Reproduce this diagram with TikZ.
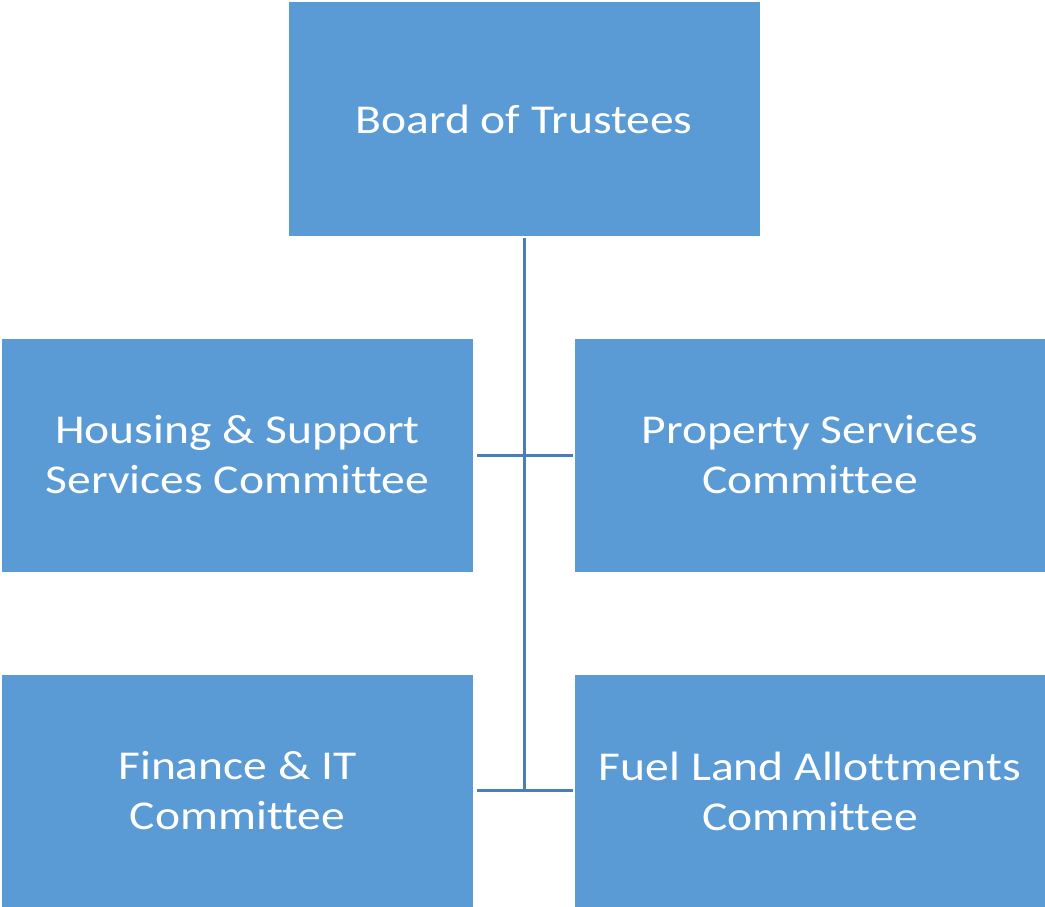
\documentclass[tikz,border=0pt]{standalone}
\usepackage{fontspec}
\setmainfont{Carlito}[FakeStretch=1.16, Ligatures=NoCommon]
\definecolor{boxfill}{HTML}{5B9BD5}
\definecolor{linecol}{HTML}{4A7EBB}
\begin{document}
\begin{tikzpicture}[x=1pt,y=-1pt,
  orgbox/.style={fill=boxfill, text=white, minimum width=471pt, minimum height=233pt, inner sep=0pt, align=center, font=\fontsize{41}{50}\selectfont},
  conn/.style={draw=linecol, line width=3pt}]
\useasboundingbox (0,0) rectangle (1045,907);
\node[orgbox] (bt) at (524,119) {Board of Trustees};
\node[orgbox] (hs) at (237.5,455) {Housing \& Support\\Services Committee};
\node[orgbox] (ps) at (810,455) {Property Services\\Committee};
\node[orgbox] (fi) at (237.5,791) {Finance \& IT\\Committee};
\node[orgbox] (fl) at (810,791) {Fuel Land Allottments\\Committee};
\coordinate (vtop) at (524,238);
\coordinate (vbot) at (524,792);
\coordinate (h1l) at (477,455);
\coordinate (h1r) at (573,455);
\coordinate (h2l) at (477,790);
\coordinate (h2r) at (573,790);
\draw[conn] (vtop) -- (vbot);
\draw[conn] (h1l) -- (h1r);
\draw[conn] (h2l) -- (h2r);
\end{tikzpicture}
\end{document}
